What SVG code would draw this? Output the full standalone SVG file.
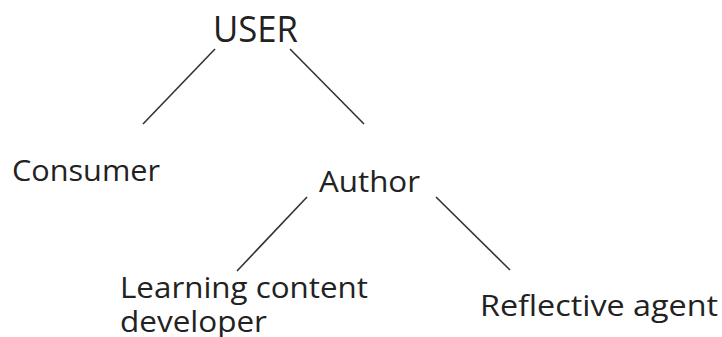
<svg xmlns="http://www.w3.org/2000/svg" width="722" height="337" viewBox="0 0 722 337">
<style>
text{font-family:"Open Sans","DejaVu Sans",sans-serif;fill:#222}
.n{font-size:30px}
.c line{stroke:#333;stroke-width:1.6}
</style>
<rect width="722" height="337" fill="#fff"/>
<g id="connectors" class="c">
<line x1="215" y1="49" x2="143" y2="124"/>
<line x1="290" y1="49" x2="364" y2="124"/>
<line x1="307" y1="197" x2="237" y2="271"/>
<line x1="436" y1="197" x2="510" y2="270"/>
</g>
<g id="user"><text x="213" y="42" font-size="37" textLength="85" lengthAdjust="spacingAndGlyphs">USER</text></g>
<g id="consumer"><text class="n" x="12" y="181" textLength="148" lengthAdjust="spacingAndGlyphs">Consumer</text></g>
<g id="author"><text class="n" x="319" y="192" textLength="101" lengthAdjust="spacingAndGlyphs">Author</text></g>
<g id="lcd"><text class="n" x="120" y="298" textLength="248" lengthAdjust="spacingAndGlyphs">Learning content</text><text class="n" x="120" y="332" textLength="147" lengthAdjust="spacingAndGlyphs">developer</text></g>
<g id="reflective"><text class="n" x="480" y="316" textLength="238" lengthAdjust="spacingAndGlyphs">Reflective agent</text></g>
</svg>
